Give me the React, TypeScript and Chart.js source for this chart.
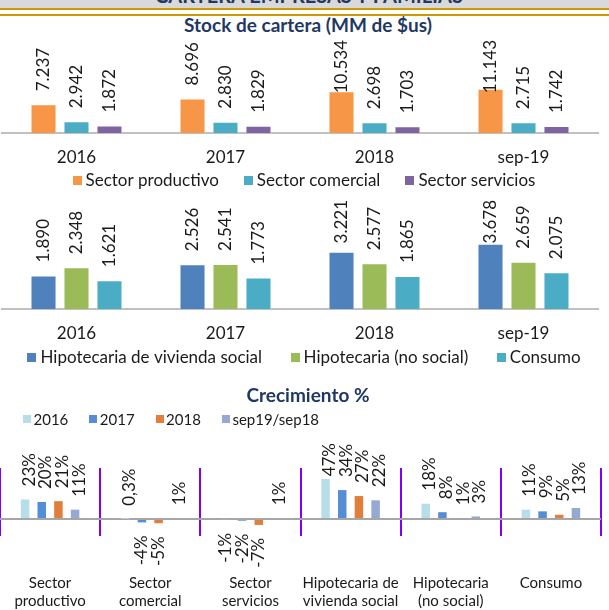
import React, { useEffect, useRef } from 'react';
import { Chart, registerables } from 'chart.js';

Chart.register(...registerables);

// ---------- data ----------
const YEARS = ['2016', '2017', '2018', 'sep-19'];

const SECTOR_SERIES = ['Sector productivo', 'Sector comercial', 'Sector servicios'];
const SECTOR_PRODUCTIVO = [7237, 8696, 10534, 11143];
const SECTOR_COMERCIAL = [2942, 2830, 2698, 2715];
const SECTOR_SERVICIOS = [1872, 1829, 1703, 1742];

const HOGAR_SERIES = ['Hipotecaria de vivienda social', 'Hipotecaria (no social)', 'Consumo'];
const HIPOTECARIA_SOCIAL = [1890, 2526, 3221, 3678];
const HIPOTECARIA_NO_SOCIAL = [2348, 2541, 2577, 2659];
const CONSUMO = [1621, 1773, 1865, 2075];

const GROWTH_CATEGORIES = [
  ['Sector', 'productivo'],
  ['Sector', 'comercial'],
  ['Sector', 'servicios'],
  ['Hipotecaria de', 'vivienda social'],
  ['Hipotecaria', '(no social)'],
  ['Consumo'],
];
const GROWTH_SERIES = ['2016', '2017', '2018', 'sep19/sep18'];
const GROWTH_2016 = [23, 0.3, -1, 47, 18, 11];
const GROWTH_2017 = [20, -4, -2, 34, 8, 9];
const GROWTH_2018 = [21, -5, -7, 27, 1, 5];
const GROWTH_SEP19 = [11, 1, 1, 22, 3, 13];

const TEXT = '#1a1a1a';
const NAVY = '#1F3864';
const FONT = 'Lato';

function fmtThousands(v: number): string {
  const r = Math.round(v);
  const th = Math.floor(r / 1000);
  const rest = String(r % 1000).padStart(3, '0');
  return th > 0 ? `${th}.${rest}` : String(r);
}
function fmtPercent(v: number): string {
  return String(v).replace('.', ',') + '%';
}

// ---------- plugins ----------
const valueLabels = {
  id: 'valueLabels',
  afterDatasetsDraw(chart: any, _args: any, opts: any) {
    if (!opts || !opts.display) return;
    const ctx = chart.ctx;
    ctx.save();
    ctx.font = `${opts.fontSize}px ${FONT}`;
    ctx.fillStyle = opts.color;
    ctx.textBaseline = 'middle';
    ctx.textAlign = 'left';
    chart.data.datasets.forEach((ds: any, di: number) => {
      const meta = chart.getDatasetMeta(di);
      meta.data.forEach((el: any, i: number) => {
        const v = ds.data[i];
        const text = opts.kind === 'percent' ? fmtPercent(v) : fmtThousands(v);
        const w = ctx.measureText(text).width;
        let x = el.x;
        let yBottom;
        if (v >= 0) {
          yBottom = el.y - opts.gap;
          if (yBottom - w < opts.minTop) yBottom = opts.minTop + w;
          x += opts.shiftPos || 0;
        } else {
          yBottom = el.y + opts.gap + w;
        }
        ctx.save();
        ctx.translate(x, yBottom);
        ctx.rotate(-Math.PI / 2);
        ctx.fillText(text, 0, 0);
        ctx.restore();
      });
    });
    ctx.restore();
  },
};

const boxLegend = {
  id: 'boxLegend',
  afterDraw(chart: any, _args: any, opts: any) {
    if (!opts || !opts.display) return;
    const ctx = chart.ctx;
    ctx.save();
    ctx.font = `${opts.fontSize}px ${FONT}`;
    ctx.textBaseline = 'middle';
    ctx.textAlign = 'left';
    const items = chart.data.datasets.map((ds: any) => ({ text: ds.label, color: ds.backgroundColor }));
    const widths = items.map((it: any) => opts.box + opts.gap + ctx.measureText(it.text).width);
    const total = widths.reduce((a: number, b: number) => a + b, 0) + opts.spacing * (items.length - 1);
    let x = opts.align === 'start' ? opts.x : opts.center - total / 2;
    items.forEach((it: any, i: number) => {
      ctx.fillStyle = it.color;
      ctx.fillRect(Math.round(x), Math.round(opts.y - opts.box / 2), opts.box, opts.box);
      ctx.fillStyle = opts.color;
      ctx.fillText(it.text, x + opts.box + opts.gap, opts.y + 1);
      x += widths[i] + opts.spacing;
    });
    ctx.restore();
  },
};

Chart.defaults.font.family = FONT;

function stockConfig(labels: string[], series: string[], data: number[][], colors: string[], yMax: number, padTop: number, padBottom: number, legendY: number, minTop: number, spacing: number) {
  return {
    type: 'bar',
    data: {
      labels,
      datasets: series.map((s, i) => ({
        label: s,
        data: data[i],
        backgroundColor: colors[i],
        borderColor: 'rgba(255,255,255,0.55)',
        borderWidth: 1,
        categoryPercentage: 0.664,
        barPercentage: 0.79,
      })),
    },
    options: {
      responsive: false,
      animation: false,
      events: [],
      layout: { padding: { left: 2, right: 11, top: padTop, bottom: padBottom } },
      scales: {
        x: {
          grid: { display: false, drawTicks: false },
          border: { display: true, color: '#C0C0C0', width: 2 },
          ticks: { padding: 14, color: TEXT, font: { family: FONT, size: 17 }, maxRotation: 0, minRotation: 0, autoSkip: false },
          afterFit: (s: any) => { s.paddingLeft = 0; s.paddingRight = 0; },
        },
        y: { display: false, min: 0, max: yMax },
      },
      plugins: {
        legend: { display: false },
        tooltip: { enabled: false },
        title: { display: false },
        valueLabels: { display: true, kind: 'thousands', fontSize: 17, color: TEXT, gap: 13, minTop, shiftPos: 0 },
        boxLegend: { display: true, fontSize: 17, color: TEXT, box: 9, gap: 4, spacing, center: 304, y: legendY, align: 'center' },
      },
    },
    plugins: [valueLabels, boxLegend],
  };
}

function growthConfig() {
  const colors = ['#B7DEE8', '#558ED5', '#E07F3C', '#95A9D3'];
  const data = [GROWTH_2016, GROWTH_2017, GROWTH_2018, GROWTH_SEP19];
  return {
    type: 'bar',
    data: {
      labels: GROWTH_CATEGORIES,
      datasets: GROWTH_SERIES.map((s, i) => ({
        label: s,
        data: data[i],
        backgroundColor: colors[i],
        borderWidth: 0,
        categoryPercentage: 0.666,
        barPercentage: 0.51,
      })),
    },
    options: {
      responsive: false,
      animation: false,
      events: [],
      layout: { padding: { left: 0, right: 8, top: 88, bottom: 1.4 } },
      scales: {
        x: {
          grid: { display: true, drawTicks: false, color: '#7F00FF', lineWidth: 2, offset: true },
          border: { display: false },
          ticks: { padding: 38.3, color: TEXT, font: { family: FONT, size: 15, lineHeight: 1.2 }, maxRotation: 0, minRotation: 0, autoSkip: false },
          afterFit: (s: any) => { s.paddingLeft = 0; s.paddingRight = 0; s.height = 112.6; },
        },
        y: {
          display: true,
          min: -20,
          max: 60,
          border: { display: false },
          ticks: { display: false, stepSize: 20 },
          grid: {
            drawTicks: false,
            lineWidth: 2,
            color: (c: any) => (c.tick && c.tick.value === 0 ? '#A6A6A6' : 'rgba(0,0,0,0)'),
          },
        },
      },
      plugins: {
        legend: { display: false },
        tooltip: { enabled: false },
        title: { display: false },
        valueLabels: { display: true, kind: 'percent', fontSize: 17, color: TEXT, gap: 13, minTop: 63, shiftPos: 4 },
        boxLegend: { display: true, fontSize: 15, color: TEXT, box: 8, gap: 2.5, spacing: 21, x: 23, y: 39, align: 'start' },
      },
    },
    plugins: [valueLabels, boxLegend],
  };
}

export default function App() {
  const c1 = useRef<HTMLCanvasElement | null>(null);
  const c2 = useRef<HTMLCanvasElement | null>(null);
  const c3 = useRef<HTMLCanvasElement | null>(null);

  useEffect(() => {
    document.body.style.margin = '0';
    const charts: Chart[] = [];
    charts.push(new Chart(c1.current as any, stockConfig(
      YEARS, SECTOR_SERIES, [SECTOR_PRODUCTIVO, SECTOR_COMERCIAL, SECTOR_SERVICIOS],
      ['#F79646', '#4BACC6', '#8064A2'], 25000, 1, 21.6, 147, 7, 25) as any));
    charts.push(new Chart(c2.current as any, stockConfig(
      YEARS, HOGAR_SERIES, [HIPOTECARIA_SOCIAL, HIPOTECARIA_NO_SOCIAL, CONSUMO],
      ['#4F81BD', '#9BBB59', '#4BACC6'], 6000, 2.5, 17.6, 157, 0, 28.5) as any));
    charts.push(new Chart(c3.current as any, growthConfig() as any));
    return () => charts.forEach((c) => c.destroy());
  }, []);

  const abs: React.CSSProperties = { position: 'absolute' };
  return (
    <div style={{ position: 'absolute', left: 0, top: 0, width: 609, height: 610, overflow: 'hidden', background: '#fff', fontFamily: FONT }}>
      <div style={{ ...abs, left: 0, top: 0, width: 609, height: 8, background: '#D9D9D9' }} />
      <div style={{ ...abs, left: 0, top: -15, width: 618, height: 20, lineHeight: '20px', textAlign: 'center', fontWeight: 700, fontSize: 20, color: NAVY, whiteSpace: 'nowrap' }}>
        CARTERA EMPRESAS Y FAMILIAS
      </div>
      <div style={{ ...abs, left: 0, top: 8, width: 609, height: 2, background: '#CC9A06' }} />
      <div style={{ ...abs, left: 0, top: 14, width: 609, height: 2, background: '#CC9A06' }} />
      <div style={{ ...abs, left: 0, top: 13, width: 616, height: 24, lineHeight: '24px', textAlign: 'center', fontWeight: 700, fontSize: 19, color: NAVY, whiteSpace: 'nowrap' }}>
        Stock de cartera (MM de $us)
      </div>
      <canvas ref={c1} width={609} height={170} style={{ ...abs, left: 0, top: 33 }} />
      <canvas ref={c2} width={609} height={175} style={{ ...abs, left: 0, top: 200 }} />
      <div style={{ ...abs, left: 0, top: 383, width: 616, height: 24, lineHeight: '24px', textAlign: 'center', fontWeight: 700, fontSize: 19, color: NAVY, whiteSpace: 'nowrap' }}>
        Crecimiento %
      </div>
      <canvas ref={c3} width={609} height={270} style={{ ...abs, left: 0, top: 380 }} />
    </div>
  );
}
